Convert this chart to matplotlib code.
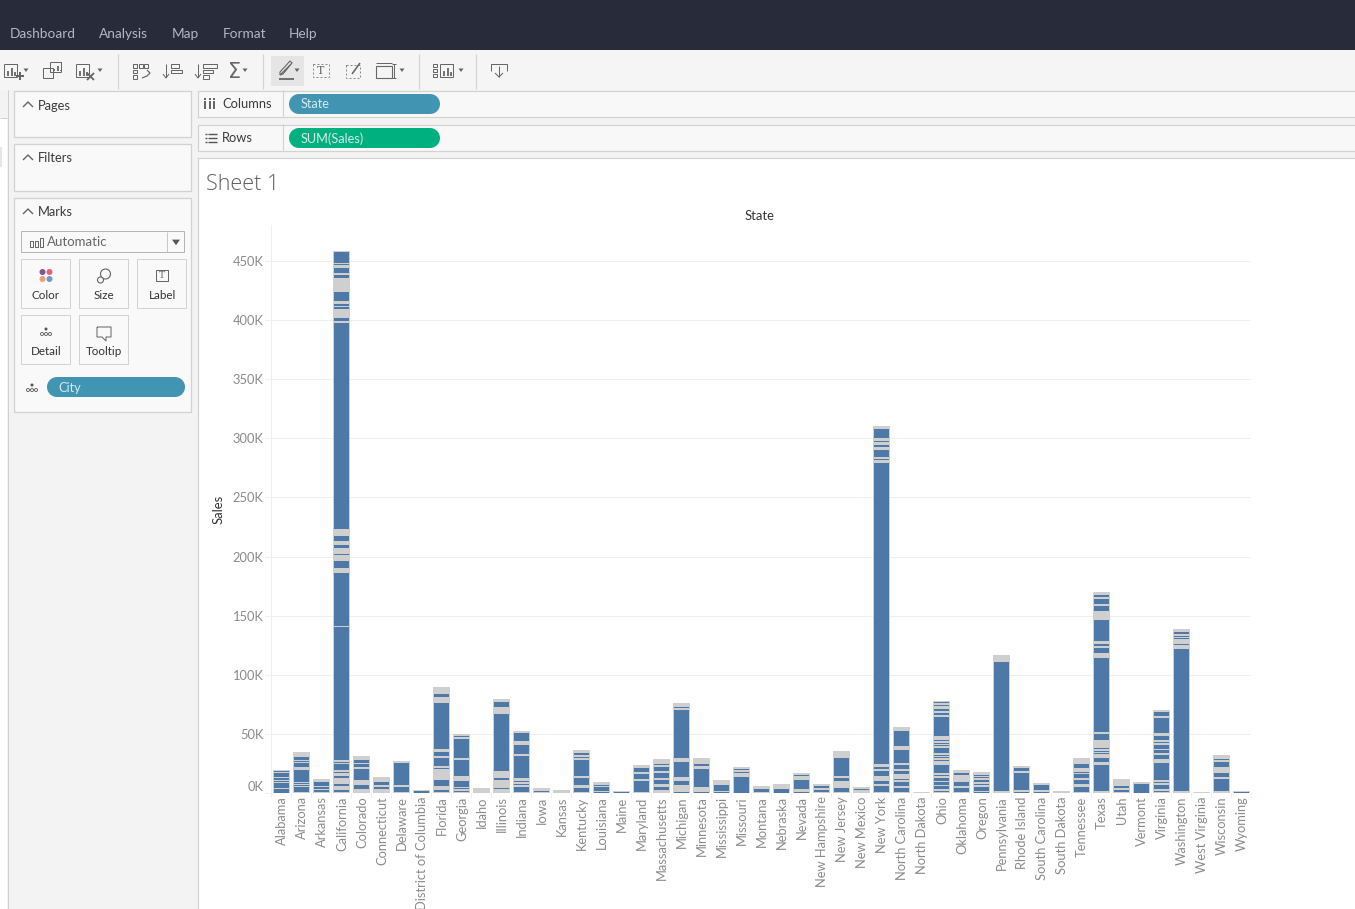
#!/usr/bin/env python
"""Tableau worksheet screenshot: SUM(Sales) per State, stacked by City."""

import matplotlib
matplotlib.use("Agg")
import matplotlib.pyplot as plt
from matplotlib.patches import Rectangle, Circle, Polygon
from matplotlib.transforms import ScaledTranslation

plt.rcParams["font.family"] = ["Lato", "DejaVu Sans"]

STATES = [
    "Alabama", "Arizona", "Arkansas", "California", "Colorado", "Connecticut", "Delaware",
    "District of Columbia", "Florida", "Georgia", "Idaho", "Illinois", "Indiana", "Iowa",
    "Kansas", "Kentucky", "Louisiana", "Maine", "Maryland", "Massachusetts", "Michigan",
    "Minnesota", "Mississippi", "Missouri", "Montana", "Nebraska", "Nevada", "New Hampshire",
    "New Jersey", "New Mexico", "New York", "North Carolina", "North Dakota", "Ohio",
    "Oklahoma", "Oregon", "Pennsylvania", "Rhode Island", "South Carolina", "South Dakota",
    "Tennessee", "Texas", "Utah", "Vermont", "Virginia", "Washington", "West Virginia",
    "Wisconsin", "Wyoming",
]

# city sales per state in thousands, bottom of the stack first
alabama = [3.9, 5.0, 2.5, 2.5, 3.7, 1.8]
arizona = [0.8, 5.0, 1.6, 1.7, 11.5, 1.2, 4.2, 2.0, 3.6, 1.1, 1.1, 1.2]
arkansas = [0.8, 3.0, 2.4, 3.8, 0.9, 0.9]
california = [0.8, 2.5, 1, 1, 1, 2.0, 1, 1, 1, 1.2, 3.0, 1.1, 1.7, 1.4, 5.9, 1.7, 0.8, 113.0, 45.6,
              1, 1, 1.3, 6.9, 1.2, 1.2, 1.3, 1.1, 1.4, 1, 1, 1, 1, 3.7, 1.1, 1.2, 5.0, 1.3, 1.3, 1.3, 1.3,
              175.1, 0.8, 3.8, 1.1, 0.7, 1.0, 1.1, 1.1, 1.2, 3.0, 2.5, 1.0, 0.8, 8.0, 1.1, 1.1, 1.1, 1.2,
              1.0, 1.2, 0.6, 1.1, 0.9, 0.9, 1.1, 3.2, 0.8, 5.0, 1.2, 0.6, 2.0, 9.5]
colorado = [0.9, 1.3, 0.9, 4.2, 1.1, 1.1, 1.2, 10.4, 1.2, 3.4, 3.3, 1.0, 1.0]
connecticut = [1.1, 1.1, 1.2, 2.8, 0.8, 3.4, 0.6, 1.2, 1.2]
delaware = [0.8, 5.4, 0.6, 19.0, 1.3]
district_of_columbia = [2.5]
florida = [0.8, 2.8, 1.1, 1.1, 5.9, 1.3, 1.3, 1.3, 1.3, 1.3, 1.3, 0.8, 1.7, 0.9, 7.3, 1.0, 4.5, 1.3, 40.0, 1.2,
           1.0, 1.1, 1.0, 3.7, 1.2, 1.2, 1.3, 1.3]
georgia = [0.8, 1.4, 1.4, 1.4, 5.6, 1.3, 1.3, 0.8, 14.6, 0.6, 17.5, 0.6, 1.6, 0.7]
idaho = [1.2, 1.0, 1.0, 1.0]
illinois = [1.1, 1.1, 1.2, 1.7, 1.2, 1.2, 1.2, 1.0, 1.0, 2.8, 1.0, 1.1, 1.0, 1.4, 0.8, 48.5, 1.2, 1.3, 1.3, 1.3,
            5.6, 0.8, 0.9]
indiana = [0.8, 5.0, 1.0, 1.4, 1.0, 2.2, 0.7, 1.0, 19.0, 1.3, 8.2, 1.3, 1.3, 7.0, 1.3]
iowa = [0.8, 1.4, 1.0, 1.0]
kansas = [1.2, 1.3]
kentucky = [0.8, 4.5, 1.2, 7.0, 0.8, 14.4, 0.8, 1.8, 0.8, 2.6, 0.8, 0.8]
louisiana = [1.4, 0.7, 3.4, 0.8, 1.4, 0.8, 0.9]
maine = [1.7]
maryland = [0.8, 10.5, 0.6, 5.0, 0.6, 4.4, 0.8, 0.9]
massachusetts = [1.3, 1.3, 3.4, 1.3, 4.5, 1.3, 5.0, 0.8, 4.2, 0.8, 1.7, 0.8, 1.2, 1.2]
michigan = [1.4, 0.6, 1.1, 1.2, 1.2, 1.2, 4.2, 1.0, 0.9, 0.9, 13.2, 1.2, 1.3, 41.9, 0.7, 1.4, 0.6, 1.2, 1.3]
minnesota = [1.4, 0.8, 1.0, 1.0, 1.0, 16.3, 1.3, 2.9, 1.2, 1.2, 1.2]
mississippi = [1.4, 0.7, 5.6, 0.6, 1.1, 0.8, 0.8]
missouri = [14.2, 1.0, 1.0, 1.0, 1.4, 0.5, 1.9, 1.0]
montana = [0.6, 3.4, 0.9, 1.0]
nebraska = [4.2, 1.1, 1.1, 1.2]
nevada = [1.7, 1.3, 8.7, 0.8, 1.4, 0.5, 1.4, 0.8]
new_hampshire = [0.8, 2.6, 0.8, 2.3, 1.1]
new_jersey = [0.8, 4.2, 0.8, 1.0, 0.8, 0.9, 0.8, 0.8, 3.4, 1.3, 15.5, 1.0, 1.0, 1.0, 1.0, 1.0]
new_mexico = [1.2, 1.3, 1.8, 0.8]
new_york = [0.8, 5.9, 0.8, 3.4, 1.1, 1.1, 1.2, 5.0, 0.8, 2.5, 0.8, 0.9, 255.5, 0.8, 0.9, 1.7, 0.8, 6.8, 0.8,
            0.9, 3.0, 1.1, 1.7, 0.8, 0.9, 8.5, 0.8, 0.9]
north_carolina = [0.8, 4.2, 0.8, 4.5, 0.9, 1.4, 0.7, 0.7, 0.9, 0.9, 3.4, 0.9, 4.5, 1.0, 12.0, 1.2, 1.3,
                  13.5, 1.0, 1.1]
north_dakota = [0.9]
ohio = [0.8, 1.9, 0.6, 3.1, 0.6, 2.8, 0.6, 3.1, 0.6, 2.3, 0.6, 7.9, 0.9, 1.1, 0.5, 1.4, 0.5, 1.7, 0.5,
        1.4, 0.6, 5.6, 0.5, 1.7, 0.5, 1.4, 0.5, 1.7, 0.9, 0.9, 1.0, 17.3, 0.6, 2.3, 0.6, 2.8, 0.6, 1.1, 0.5,
        1.4, 0.5, 1.7]
oklahoma = [0.8, 4.5, 0.8, 3.8, 0.7, 0.8, 0.8, 1.2, 1.2, 0.7, 2.5, 0.7, 0.8]
oregon = [1.4, 0.6, 4.0, 0.7, 2.0, 0.6, 2.8, 0.6, 1.4, 0.5, 1.4, 0.8, 0.9]
pennsylvania = [0.8, 0.9, 109.9, 1.2, 1.2, 1.3, 1.3]
rhode_island = [2.0, 0.6, 15.5, 0.6, 3.4, 0.7]
south_carolina = [1.5, 0.7, 5.6, 0.7]
south_dakota = [0.7, 0.8]
tennessee = [0.8, 5.0, 0.8, 0.8, 4.2, 0.7, 4.2, 0.6, 1.7, 0.7, 1.2, 0.7, 4.0, 0.6, 1.4, 1.2, 1.3]
texas = [0.8, 0.9, 22.7, 0.8, 0.9, 4.2, 1.2, 1.3, 1.7, 1.7, 1.4, 1.7, 1.1, 1.1, 1.1, 1.1, 1.1, 6.2, 0.8, 63.4,
         1.1, 1.1, 1.2, 5.1, 0.8, 2.5, 0.8, 0.9, 18.6, 1.2, 1.3, 0.8, 1.1, 1.1, 1.2, 5.0, 0.8, 5.0, 0.8, 2.5,
         0.8, 0.9]
utah = [0.8, 2.8, 0.8, 2.5, 0.8, 0.8, 1.1, 1.1, 1.1]
vermont = [8.6, 0.7]
virginia = [0.8, 1.7, 0.6, 4.5, 0.6, 2.0, 0.5, 15.5, 0.5, 1.4, 0.6, 4.5, 0.5, 3.1, 0.5, 4.2, 0.5, 2.3, 0.5,
            4.5, 0.7, 0.7, 14.0, 0.6, 3.7, 0.7, 0.7]
washington = [0.8, 1.0, 121.0, 1.2, 1.3, 1.7, 1.1, 1.1, 1.2, 1.7, 1.7, 0.8, 2.5, 0.8, 0.9]
west_virginia = [1.2]
wisconsin = [0.8, 0.9, 11.3, 0.7, 4.2, 1.1, 1.1, 1.1, 1.2, 4.8, 0.6, 1.7, 0.6, 1.4, 1.0]
wyoming = [1.7]

CITY_SALES = [
    alabama, arizona, arkansas, california, colorado, connecticut, delaware, district_of_columbia,
    florida, georgia, idaho, illinois, indiana, iowa, kansas, kentucky, louisiana, maine, maryland,
    massachusetts, michigan, minnesota, mississippi, missouri, montana, nebraska, nevada,
    new_hampshire, new_jersey, new_mexico, new_york, north_carolina, north_dakota, ohio, oklahoma,
    oregon, pennsylvania, rhode_island, south_carolina, south_dakota, tennessee, texas, utah,
    vermont, virginia, washington, west_virginia, wisconsin, wyoming,
]

Y_TICKS = [0, 50, 100, 150, 200, 250, 300, 350, 400, 450]
Y_TICK_LABELS = ["0K", "50K", "100K", "150K", "200K", "250K", "300K", "350K", "400K", "450K"]

MENU_ITEMS = [("Dashboard", 10), ("Analysis", 99), ("Map", 172), ("Format", 223), ("Help", 289)]

W, H = 1355, 909
BLUE = "#4e79a7"
EDGE = "#cfcfcf"
ICON = "#666666"
TICK_GRAY = "#8a8a8a"
PX = 72 / 100  # one pixel in points at dpi 100
THIN_K = 1.35  # segments thinner than this are all border at this size

fig = plt.figure(figsize=(W / 100, H / 100), dpi=100, facecolor="white")

# full-figure axes in pixel coordinates for the application chrome
ui = fig.add_axes([0, 0, 1, 1], zorder=0)
ui.set_xlim(0, W)
ui.set_ylim(H, 0)
ui.axis("off")


def box(x0, y0, x1, y1, fc="none", ec="none", lw=1.0, ls="-", z=1):
    ui.add_patch(Rectangle((x0, y0), x1 - x0, y1 - y0, fc=fc, ec=ec, lw=lw * PX, ls=ls, zorder=z))


def line(xs, ys, color=ICON, lw=1.0, z=3):
    ui.plot(xs, ys, color=color, lw=lw * PX, solid_capstyle="butt", zorder=z)


def label(x, y, s, size=9.2, color="#444444", ha="left", **kw):
    ui.text(x, y + 1, s, fontsize=size, color=color, ha=ha, va="center", zorder=5, **kw)


def pill(x0, y0, x1, y1, color, s, text_dx=12):
    r = (y1 - y0) / 2
    ui.add_patch(Circle((x0 + r, y0 + r), r, fc=color, ec="none", zorder=3))
    ui.add_patch(Circle((x1 - r, y0 + r), r, fc=color, ec="none", zorder=3))
    ui.add_patch(Rectangle((x0 + r, y0), x1 - x0 - 2 * r, y1 - y0, fc=color, ec="none", zorder=3))
    label(x0 + text_dx, (y0 + y1) / 2 - 0.5, s, color="#d5e8ee", size=9.2)


def caret(x, y, size=2.5, color=ICON):
    ui.add_patch(Polygon([(x - size, y - size * 0.6), (x + size, y - size * 0.6), (x, y + size * 0.8)],
                         fc=color, ec="none", zorder=3))


def chevron(x, y):
    line([x - 5, x, x + 5], [y + 3, y - 2, y + 3], lw=1.4)


def mini_bars(x, y, w=15, h=14):
    # small framed bar chart glyph used by several toolbar buttons
    line([x, x, x + w], [y, y + h, y + h])
    line([x, x + w, x + w], [y, y, y + h])
    for dx, top in [(4, 7), (7.5, 4), (11, 8)]:
        line([x + dx, x + dx], [y + top, y + h - 1], lw=1.8)


def card(y0, y1, title):
    box(14, y0, 191, y1 - 1, fc="#f9f9f9", ec="#d2d2d2", lw=1.3)
    chevron(28, y0 + 13)
    label(38, y0 + 13.5, title, size=9.3, color="#3a3a3a")


# --- top bars -------------------------------------------------------------
box(0, 0, W, 50, fc="#272b3a")
for name, x in MENU_ITEMS:
    label(x, 32.5, name, size=9.8, color="#b4b8c0")

box(0, 50, W, 91, fc="#f5f5f5")
box(0, 90, W, 909, fc="#f3f3f3")
for x in (118, 263, 419, 476):
    line([x, x], [54, 89], color="#d5d5d5", lw=1.2)
box(271, 56, 304, 86, fc="#e5e5e5", z=2)

# toolbar icons, left to right
mini_bars(4, 64, 13, 13)
line([16, 24], [76, 76], lw=2)
line([20, 20], [72, 80], lw=2)
caret(26, 70)
mini_bars(50, 62, 11, 10)
box(43, 68, 53, 78, fc="#f5f5f5", ec=ICON, lw=1, z=2)
mini_bars(76, 64, 13, 13)
line([87, 94], [73, 80], lw=1.8)
line([94, 87], [73, 80], lw=1.8)
caret(100, 70)
for i in range(3):
    box(133 + i * 5.5, 64, 137 + i * 5.5, 67.5, ec=ICON, lw=1)
    box(133, 64 + i * 5.5, 137, 67.5 + i * 5.5, ec=ICON, lw=1)
line([147, 150, 147, 142], [70, 73, 76, 78], lw=1.2)
for x0, flip in ((164, 1), (196, -1)):
    line([x0 + 2, x0 + 2], [64, 77])
    line([x0 - 1, x0 + 2, x0 + 5], [74, 78, 74])
    widths = [8, 11] if flip == 1 else [14, 10, 6]
    for j, w in enumerate(widths):
        box(x0 + 7, 64 + j * 5.5, x0 + 7 + w, 67.5 + j * 5.5, ec=ICON, lw=1)
label(228, 71, "Σ", size=15, color=ICON, family="DejaVu Sans")
caret(245, 70)
line([280, 280, 290, 292], [75, 72, 61, 63], lw=1.1)
line([280, 292, 283, 280], [75, 63, 74, 75], lw=1.1)
line([279, 294], [79, 79], color="#555555", lw=1.6)
caret(297, 70)
box(313, 64, 329, 77, ec="#8a8a8a", lw=1, ls=(0, (2, 2)))
label(321, 69.5, "T", size=8, color=ICON, ha="center", family="DejaVu Serif")
box(346, 65, 360, 78, ec="#8a8a8a", lw=1, ls=(0, (2, 2)))
line([352, 360], [74, 63], lw=1.6)
box(376, 66, 392, 78, ec=ICON, lw=1.1)
line([376, 392], [63, 63])
line([394, 394], [64, 78])
line([392, 396], [64, 64])
line([392, 396], [78, 78])
caret(402, 70)
for j in range(3):
    box(433, 64 + j * 5, 437, 67 + j * 5, ec=ICON, lw=1)
mini_bars(440, 64, 13, 13)
caret(461, 70)
line([491, 491, 507, 507], [71, 64, 64, 71])
line([499, 499], [66, 77])
line([495, 499, 503], [73, 77, 73])

# --- left strip and cards -------------------------------------------------
box(0, 118, 7, 909, fc="white")
line([7.5, 7.5], [90, 909], color="#d0d0d0", lw=1)
line([0, 7], [117.5, 117.5], color="#d0d0d0", lw=1)
box(0, 147, 2, 167, fc="#e6e6e6", z=2)

card(91, 138, "Pages")
card(144, 192, "Filters")
card(198, 413, "Marks")

box(21, 231, 184, 252, fc="#f9f9f9", ec="#b5b5b5", lw=1)
line([166.5, 166.5], [232, 252], color="#c8c8c8")
caret(176, 242, 4, "#555555")
for dx, top in [(0, 241), (5, 241), (10, 238)]:
    box(30 + dx, top, 32.5 + dx, 247, ec=ICON, lw=1, z=3)
label(47, 241.5, "Automatic", color="#666666", size=9.5)

for x0, y0, name in [(21, 259, "Color"), (79, 259, "Size"), (137, 259, "Label"),
                     (21, 315, "Detail"), (79, 315, "Tooltip")]:
    box(x0, y0, x0 + 49, y0 + 49, fc="#f9f9f9", ec="#d2d2d2", lw=1)
    label(x0 + 25, y0 + 35.5, name, size=8.4, ha="center", color="#333333")

for cx, cy, c in [(42.5, 272, "#7b5b8d"), (49.5, 272, "#e8607a"), (42.5, 279, "#ee9f75"), (49.5, 279, "#6f9bc4")]:
    ui.add_patch(Circle((cx, cy), 3, fc=c, ec="none", zorder=3))
ui.add_patch(Circle((105.5, 274), 5, fc="none", ec=ICON, lw=0.8, zorder=3))
ui.add_patch(Circle((100.5, 280), 3, fc="#f9f9f9", ec=ICON, lw=0.8, zorder=4))
box(156, 270, 168, 281, ec=ICON, lw=1)
label(162, 274.5, "T", size=6.5, color=ICON, ha="center", family="DejaVu Serif")


def detail_glyph(cx, cy):
    ui.add_patch(Circle((cx, cy - 3), 1.5, fc="#555555", ec="none", zorder=3))
    for dx in (-4, 0, 4):
        ui.add_patch(Circle((cx + dx, cy + 2), 1.5, fc="none", ec="#555555", lw=0.6, zorder=3))


detail_glyph(46, 332)
line([97, 97, 102, 106, 106, 111, 111, 97], [327, 337, 337, 341, 337, 337, 327, 327], lw=1)
detail_glyph(32, 388)
pill(47, 377, 185, 397, "#4295b2", "City", text_dx=11)

# --- shelves --------------------------------------------------------------
for y0, y1, name, color, pill_text in [(90, 116, "Columns", "#4295b2", "State"),
                                       (124, 150, "Rows", "#00b180", "SUM(Sales)")]:
    box(198, y0 + 0.5, W + 2, y1 + 0.5, fc="#f8f8f8", ec="#d2d2d2", lw=1.2)
    line([283, 283], [y0, y1], color="#d2d2d2", lw=1.2)
    label(222, y0 + 13.5, name, size=9.3, color="#3a3a3a")
    pill(289, y0 + 4, 440, y0 + 24, color, pill_text)
for dx in (205, 209.5, 214):
    line([dx, dx], [101, 109], lw=1.8, color="#555555")
    line([dx, dx], [98, 99.5], lw=1.8, color="#555555")
for j in range(3):
    line([205, 207], [133.5 + j * 4, 133.5 + j * 4], lw=1.4, color="#555555")
    line([208, 217], [133.5 + j * 4, 133.5 + j * 4], lw=1.4, color="#555555")

# --- worksheet ------------------------------------------------------------
box(198, 158, W + 2, H + 2, fc="white", ec="#d2d2d2", lw=1.2)
label(206, 183, "Sheet 1", size=15.5, color="#5f5f5f", family="Open Sans", fontweight="light")
label(760, 214.5, "State", size=9.4, color="#333333", ha="center")
ui.text(219, 509.5, "Sales", fontsize=9.4, color="#333333", rotation=90, ha="center", va="center", zorder=5)

# chart axes: x slots span px 271-1251, 0K sits at y=793, 450K at y=261
PX_PER_K = (793 - 261) / 450
y_top = (793 - 225) / PX_PER_K
ax = fig.add_axes([271 / W, (H - 793) / H, 980 / W, (793 - 225) / H], zorder=2)
ax.patch.set_alpha(0)
ax.set_xlim(-0.5, len(STATES) - 0.5)
ax.set_ylim(0, y_top)

for i, cities in enumerate(CITY_SALES):
    bottom = 0.0
    for value in cities:
        face = BLUE if value >= THIN_K else EDGE
        ax.bar(i, value, width=0.76, bottom=bottom, color=face, edgecolor=EDGE, linewidth=1.0 * PX, zorder=3)
        bottom += value

for side in ("top", "right", "bottom"):
    ax.spines[side].set_visible(False)
ax.spines["left"].set_color("#efefef")
ax.spines["left"].set_linewidth(1 * PX)
ax.grid(axis="y", color="#efefef", linewidth=1 * PX, zorder=0)
ax.set_axisbelow(True)

ax.set_yticks(Y_TICKS)
ax.set_yticklabels(Y_TICK_LABELS, fontsize=9.3, color=TICK_GRAY)
ax.tick_params(axis="y", length=4, width=1 * PX, color="#efefef", pad=1.5)
ax.get_yticklabels()[0].set_va("bottom")

ax.set_xticks(range(len(STATES)))
ax.set_xticklabels(STATES, rotation=90, fontsize=9.3, color=TICK_GRAY, ha="center", va="top")
ax.tick_params(axis="x", length=0, pad=2.4)
nudge = ScaledTranslation(1 / 100, 0, fig.dpi_scale_trans)
for tick_text in ax.get_xticklabels():
    tick_text.set_transform(tick_text.get_transform() + nudge)
for i in range(len(STATES) + 1):
    ax.plot([i - 0.5, i - 0.5], [0, -3.5], color="#efefef", lw=1 * PX, clip_on=False, zorder=1)
ax.set_ylim(0, y_top)

fig.savefig("out.png", dpi=100)
